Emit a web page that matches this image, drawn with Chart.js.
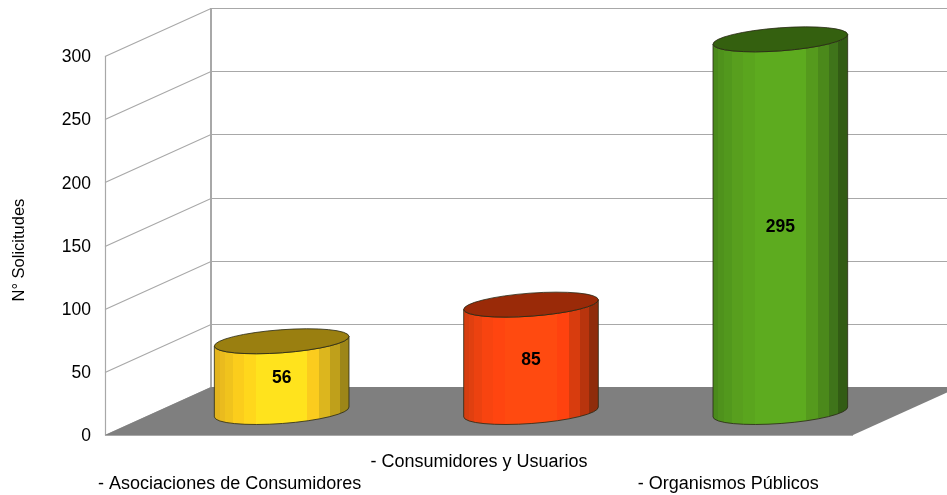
<!DOCTYPE html>
<html lang="es">
<head>
    <meta charset="UTF-8" />
    <title>N° Solicitudes</title>
    <style>
        body { margin: 0; background: #fff; }
        canvas { display: block; }
    </style>
</head>
<body>
    <canvas id="chart" width="947" height="495"></canvas>
    <script src="https://cdn.jsdelivr.net/npm/chart.js"></script>
    <script>
        const categories = [
            ['', '- Asociaciones de Consumidores'],
            ['- Consumidores y Usuarios', ''],
            ['', '- Organismos Públicos']
        ];
        const solicitudes = [56, 85, 295];
        const axisTitle = 'N° Solicitudes  ';

        // 3D look: how far the back wall is moved from the front plane
        const DEPTH_X = 106;
        const DEPTH_Y = 48;
        const BAR_SHIFT_X = 52;
        const BAR_SHIFT_Y = 23;
        const GRID = '#a8a8a8';
        const TILT = -4.2 * Math.PI / 180;

        // vertical bands of each cylinder, left to right
        const bandEnds = [0.04, 0.08, 0.14, 0.22, 0.31, 0.69, 0.78, 0.86, 0.93, 1];
        const bandColors = [
            ['#e3b41e', '#eabb1e', '#f0c31d', '#fbcd1c', '#ffd71c', '#ffe31d', '#fbcc1e', '#dcb61e', '#bfa01b', '#9d8618'],
            ['#d63e10', '#e04010', '#ec4210', '#f84410', '#ff4510', '#ff4a10', '#ff420f', '#d83c0e', '#b8340d', '#8f2c0b'],
            ['#4a8a1b', '#4f921c', '#52981d', '#589f1e', '#5aa51e', '#5dab1f', '#559a1d', '#4b891b', '#3f741a', '#325c14']
        ];
        const lidColors = ['#9a7f10', '#9a2a08', '#34600f'];

        const room = {
            id: 'room',
            beforeDatasetsDraw(chart) {
                const { ctx, chartArea: a, scales: { y } } = chart;
                const backX = a.left + DEPTH_X;
                const right = chart.width;
                ctx.save();

                // grid lines on side wall and back wall
                ctx.strokeStyle = GRID;
                ctx.lineWidth = 1.2;
                y.ticks.forEach(t => {
                    const py = Math.round(y.getPixelForValue(t.value)) + 0.5;
                    ctx.beginPath();
                    ctx.moveTo(a.left, py);
                    ctx.lineTo(backX, py - DEPTH_Y);
                    ctx.lineTo(right, py - DEPTH_Y);
                    ctx.stroke();
                });
                ctx.beginPath();
                ctx.moveTo(a.left + 0.5, a.top);
                ctx.lineTo(a.left + 0.5, a.bottom);
                ctx.stroke();
                ctx.lineWidth = 2;
                ctx.beginPath();
                ctx.moveTo(backX, a.top - DEPTH_Y);
                ctx.lineTo(backX, a.bottom - DEPTH_Y);
                ctx.stroke();

                // floor
                ctx.fillStyle = '#7f7f7f';
                ctx.beginPath();
                ctx.moveTo(a.left, a.bottom);
                ctx.lineTo(a.right, a.bottom);
                ctx.lineTo(a.right + DEPTH_X, a.bottom - DEPTH_Y);
                ctx.lineTo(backX, a.bottom - DEPTH_Y);
                ctx.closePath();
                ctx.fill();
                ctx.strokeStyle = GRID;
                ctx.lineWidth = 1;
                ctx.beginPath();
                ctx.moveTo(a.left, a.bottom + 0.5);
                ctx.lineTo(a.right, a.bottom + 0.5);
                ctx.stroke();
                ctx.restore();
            }
        };

        const cylinders = {
            id: 'cylinders',
            afterDatasetsDraw(chart) {
                const { ctx } = chart;
                chart.getDatasetMeta(0).data.forEach((bar, i) => {
                    const cx = bar.x + BAR_SHIFT_X;
                    const top = bar.y - BAR_SHIFT_Y;
                    const bottom = bar.base - BAR_SHIFT_Y;
                    const rx = bar.width / 2;
                    const ry = 11.5;
                    const left = cx - rx;

                    const grad = ctx.createLinearGradient(left, 0, left + bar.width, 0);
                    let start = 0;
                    bandEnds.forEach((end, b) => {
                        grad.addColorStop(start, bandColors[i][b]);
                        grad.addColorStop(end, bandColors[i][b]);
                        start = end;
                    });

                    ctx.save();
                    ctx.lineWidth = 1;
                    ctx.strokeStyle = 'rgba(40,40,20,0.8)';

                    // body
                    ctx.beginPath();
                    ctx.ellipse(cx, top, rx, ry, TILT, Math.PI, 0, true);
                    ctx.ellipse(cx, bottom, rx, ry, TILT, 0, Math.PI);
                    ctx.closePath();
                    ctx.fillStyle = grad;
                    ctx.fill();
                    ctx.stroke();

                    // lid
                    ctx.beginPath();
                    ctx.ellipse(cx, top, rx, ry, TILT, 0, Math.PI * 2);
                    ctx.fillStyle = lidColors[i];
                    ctx.fill();
                    ctx.stroke();

                    // value
                    ctx.fillStyle = '#000';
                    ctx.font = 'bold 17.5px "Liberation Sans"';
                    ctx.textAlign = 'center';
                    ctx.textBaseline = 'middle';
                    ctx.fillText(solicitudes[i], cx, (top + bottom) / 2 + 2);
                    ctx.restore();
                });
            }
        };

        new Chart(document.getElementById('chart'), {
            type: 'bar',
            data: {
                labels: categories,
                datasets: [{
                    data: solicitudes,
                    backgroundColor: 'transparent',
                    categoryPercentage: 1,
                    barPercentage: 0.5415
                }]
            },
            options: {
                responsive: false,
                animation: false,
                layout: { padding: { left: 0, right: 94, top: 56, bottom: 0 } },
                plugins: { legend: { display: false }, tooltip: { enabled: false } },
                scales: {
                    x: {
                        grid: { display: false, drawTicks: false },
                        border: { display: false },
                        afterFit(scale) { scale.height = 60; },
                        ticks: {
                            autoSkip: false,
                            maxRotation: 0,
                            minRotation: 0,
                            padding: 16,
                            color: '#000',
                            font: { family: 'Liberation Sans', size: 18, lineHeight: 1.22 }
                        }
                    },
                    y: {
                        min: 0,
                        max: 300,
                        grid: { display: false, drawTicks: false },
                        border: { display: false },
                        afterFit(scale) { scale.width = 105; },
                        ticks: {
                            stepSize: 50,
                            padding: 14,
                            color: '#000',
                            // empty first line with a 3px line height moves the number 1.5px down
                            callback: v => ['', String(v)],
                            font: { family: 'Liberation Sans', size: 17.5, lineHeight: '3px' }
                        },
                        title: {
                            display: true,
                            text: axisTitle,
                            color: '#000',
                            padding: { top: 10, bottom: 0 },
                            font: { family: 'Liberation Sans', size: 16.5 }
                        }
                    }
                }
            },
            plugins: [room, cylinders]
        });
    </script>
</body>
</html>
